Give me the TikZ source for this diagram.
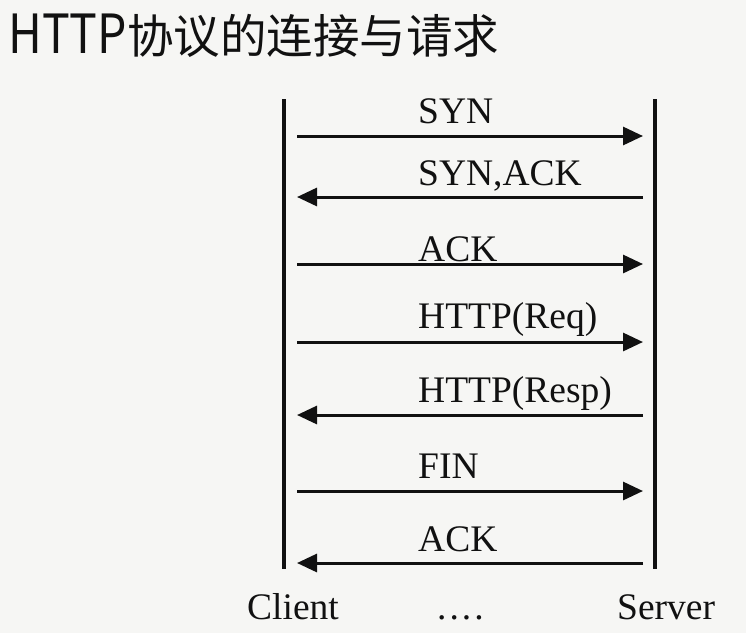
\documentclass[tikz,border=0pt]{standalone}
\usepackage{fontspec}
\usepackage{graphicx}
\setmainfont{Liberation Serif}
\newfontfamily\cjktitle{Noto Sans CJK SC}
\usetikzlibrary{arrows.meta}
\definecolor{bgcol}{HTML}{F6F6F4}
\definecolor{ink}{HTML}{111111}
\tikzset{
  lifeline/.style={draw=ink, line width=3.2pt},
  msg/.style={draw=ink, line width=3pt, -{Triangle[length=20pt,width=18pt]}},
  msglabel/.style={anchor=base west, inner sep=0pt, text=ink, font=\fontsize{37.5}{40}\selectfont},
  endlabel/.style={anchor=base west, inner sep=0pt, text=ink, font=\fontsize{37.5}{40}\selectfont},
}
\begin{document}
\begin{tikzpicture}[x=1pt,y=-1pt]
  \fill[bgcol] (0,0) rectangle (746,633);
  \useasboundingbox (0,0) rectangle (746,633);
  % title
  \node[anchor=base west, inner sep=0pt, text=ink] (title) at (8,53)
    {\cjktitle\scalebox{0.86}[1]{\fontsize{54}{56}\selectfont HTTP}\fontsize{46.5}{50}\selectfont 协议的连接与请求};
  % lifelines
  \coordinate (ctop) at (284,99);
  \coordinate (cbot) at (284,569);
  \coordinate (stop) at (655,99);
  \coordinate (sbot) at (655,569);
  \draw[lifeline] (ctop) -- (cbot);
  \draw[lifeline] (stop) -- (sbot);
  % message end points
  \foreach \i/\y in {1/136, 2/197, 3/264, 4/342, 5/415, 6/491, 7/563} {
    \coordinate (c\i) at (297,\y);
    \coordinate (s\i) at (643,\y);
  }
  \draw[msg] (c1) -- (s1);
  \draw[msg] (s2) -- (c2);
  \draw[msg] (c3) -- (s3);
  \draw[msg] (c4) -- (s4);
  \draw[msg] (s5) -- (c5);
  \draw[msg] (c6) -- (s6);
  \draw[msg] (s7) -- (c7);
  % labels
  \node[msglabel] (l1) at (418,123) {SYN};
  \node[msglabel] (l2) at (418,185) {SYN,ACK};
  \node[msglabel] (l3) at (418,261) {ACK};
  \node[msglabel] (l4) at (418,328) {HTTP(Req)};
  \node[msglabel] (l5) at (418,402) {HTTP(Resp)};
  \node[msglabel] (l6) at (418,478) {FIN};
  \node[msglabel] (l7) at (418,551) {ACK};
  % bottom labels
  \node[endlabel] (client) at (247,619) {Client};
  \node[endlabel] (dots) at (437,619) {.\hspace{3pt}.\hspace{3pt}.\hspace{3pt}.};
  \node[endlabel] (server) at (617,619) {Server};
\end{tikzpicture}
\end{document}
